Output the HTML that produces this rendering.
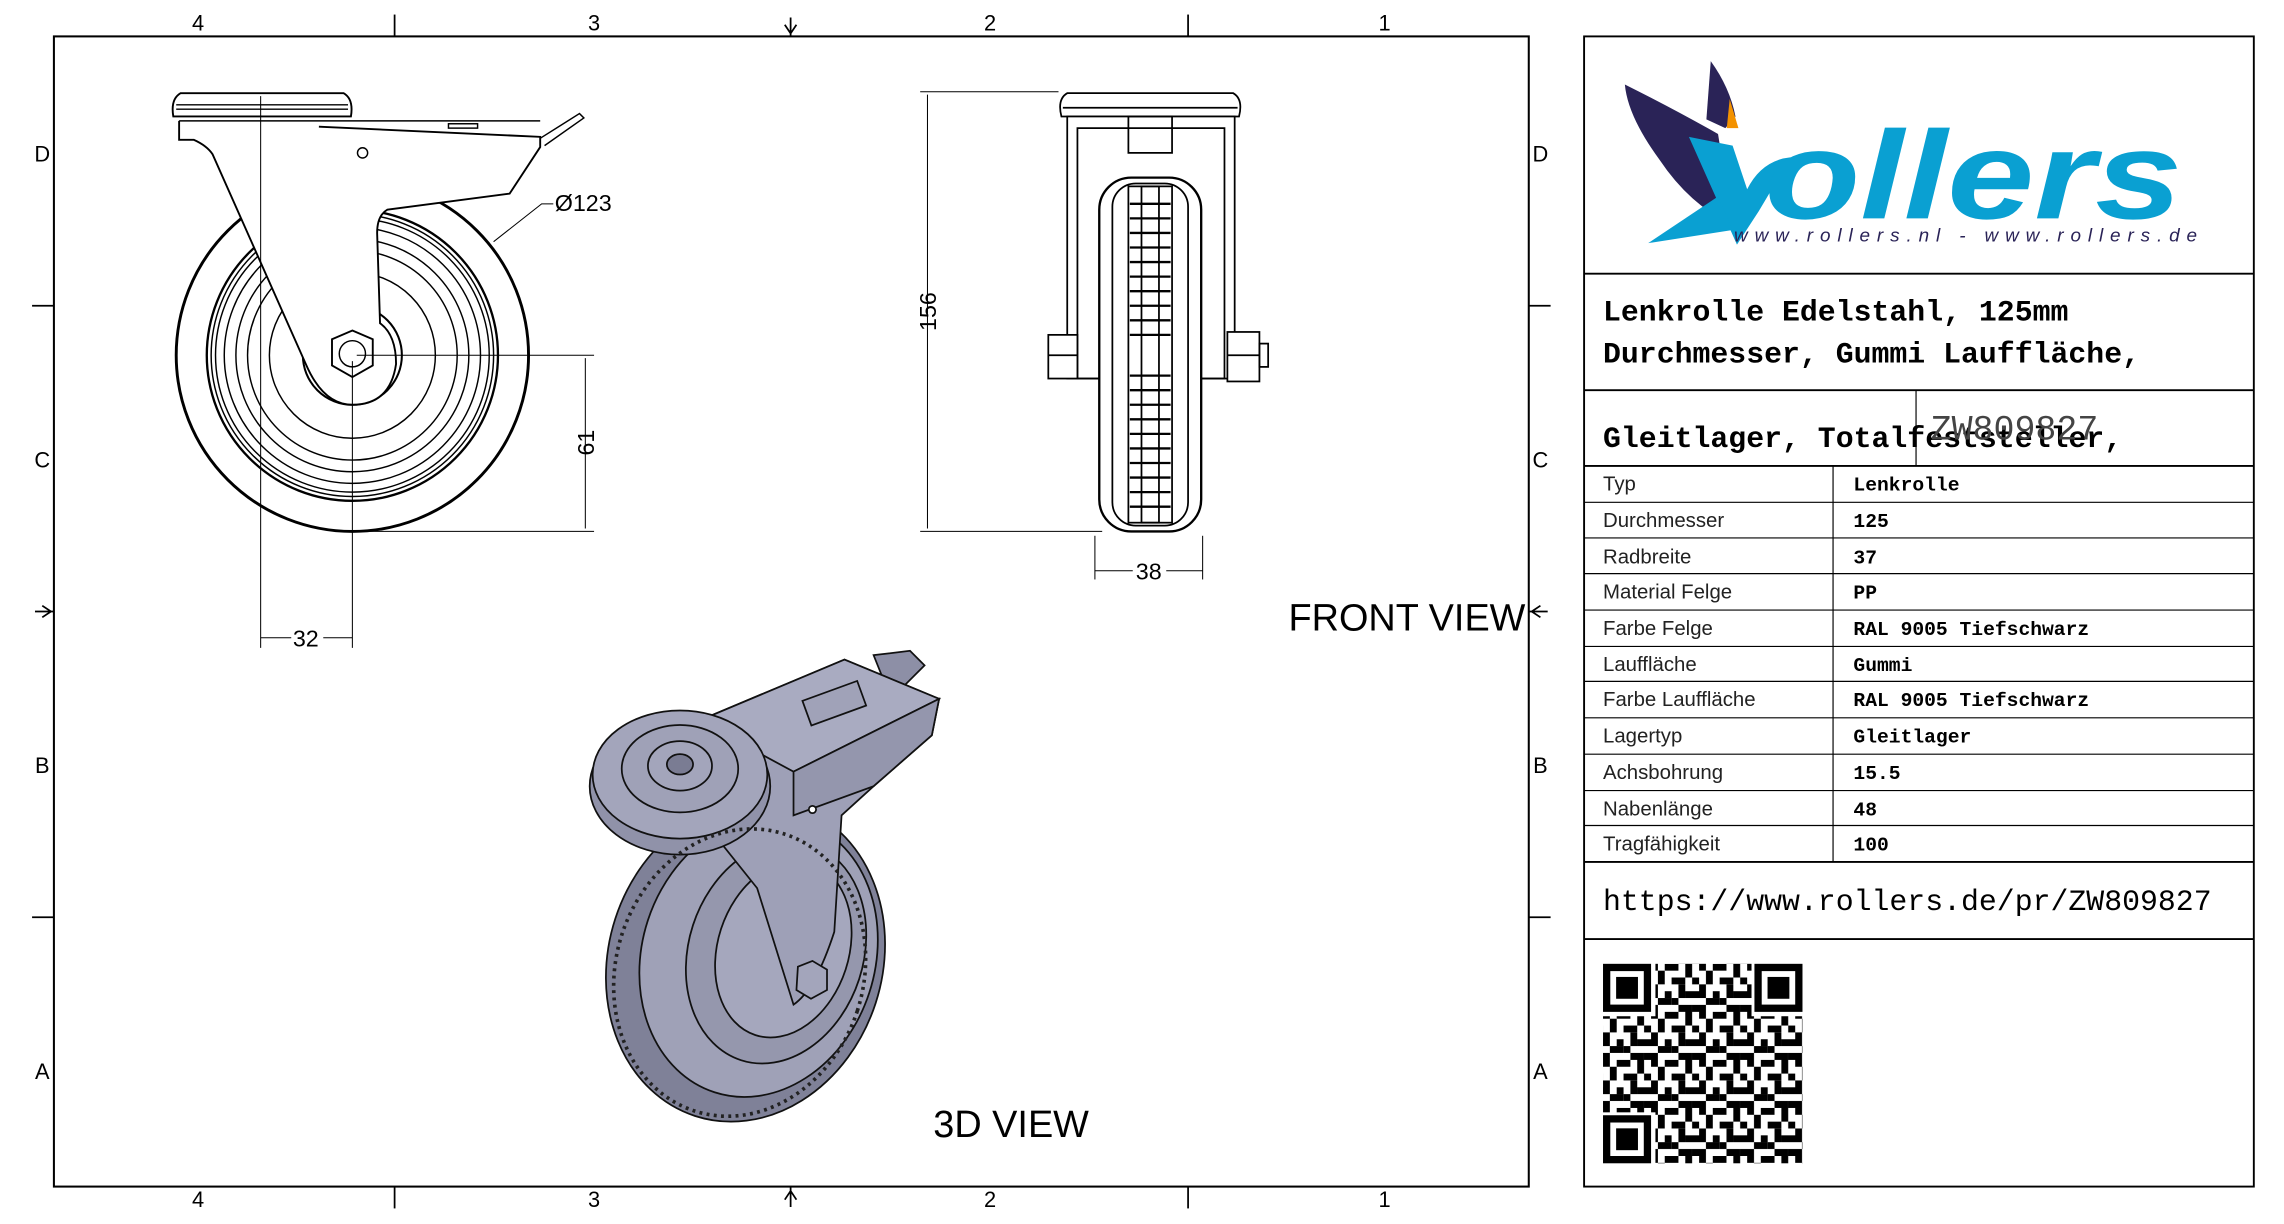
<!DOCTYPE html>
<html><head><meta charset="utf-8"><style>
html,body{margin:0;padding:0;background:#fff}
svg{display:block}
.s{font-family:"Liberation Sans","DejaVu Sans",sans-serif}
.m{font-family:"Liberation Mono","DejaVu Sans Mono",monospace}
</style></head><body>
<svg width="2284" height="1224" viewBox="0 0 1568.7 840.7" xmlns="http://www.w3.org/2000/svg">
<defs>
<pattern id="qp" x="1101" y="662" width="33" height="33" patternUnits="userSpaceOnUse">
<rect x="0" y="0" width="4.7" height="4.7"/><rect x="9.4" y="0" width="9.4" height="4.7"/><rect x="23.5" y="0" width="4.7" height="9.4"/>
<rect x="4.7" y="4.7" width="4.7" height="9.4"/><rect x="14.1" y="9.4" width="9.4" height="4.7"/><rect x="28.2" y="9.4" width="4.8" height="4.7"/>
<rect x="0" y="14.1" width="4.7" height="9.4"/><rect x="9.4" y="18.8" width="4.7" height="4.7"/><rect x="18.8" y="14.1" width="4.7" height="9.4"/>
<rect x="23.5" y="18.8" width="9.5" height="4.7"/><rect x="4.7" y="23.5" width="9.4" height="4.7"/><rect x="18.8" y="28.2" width="9.4" height="4.8"/>
<rect x="0" y="28.2" width="4.7" height="4.8"/><rect x="28.2" y="28.2" width="4.8" height="4.8"/><rect x="14.1" y="23.5" width="4.7" height="4.7"/>
</pattern>
</defs>
<rect width="1568.7" height="840.7" fill="#fff"/>
<!-- main frame -->
<rect x="37" y="25" width="1013" height="790" fill="none" stroke="#000" stroke-width="1.4"/>
<g stroke="#000" stroke-width="1.2" fill="none">
<line x1="271" y1="10" x2="271" y2="25"/><line x1="816" y1="10" x2="816" y2="25"/>
<line x1="271" y1="815" x2="271" y2="830"/><line x1="816" y1="815" x2="816" y2="830"/>
<line x1="22" y1="210" x2="37" y2="210"/><line x1="22" y1="630" x2="37" y2="630"/>
<line x1="1050" y1="210" x2="1065" y2="210"/><line x1="1050" y1="630" x2="1065" y2="630"/>
<path d="M543 12 V25 M539 17 L543 23 L547 17"/>
<path d="M543 829 V815 M539 824 L543 818 L547 824"/>
<path d="M24 420 H37 M29 416 L35 420 L29 424"/>
<path d="M1063 420 H1050 M1058 416 L1052 420 L1058 424"/>
</g>
<g class="s" font-size="15" fill="#000" text-anchor="middle">
<text x="136" y="21">4</text><text x="408" y="21">3</text><text x="680" y="21">2</text><text x="951" y="21">1</text>
<text x="136" y="829">4</text><text x="408" y="829">3</text><text x="680" y="829">2</text><text x="951" y="829">1</text>
<text x="29" y="111">D</text><text x="29" y="321">C</text><text x="29" y="531">B</text><text x="29" y="741">A</text>
<text x="1058" y="111">D</text><text x="1058" y="321">C</text><text x="1058" y="531">B</text><text x="1058" y="741">A</text>
</g>

<!-- LEFT VIEW -->
<g stroke="#000" fill="none" stroke-width="1">
<circle cx="242" cy="244" r="121" stroke-width="2"/>
<circle cx="242" cy="244" r="100" stroke-width="1.6"/>
<circle cx="242" cy="244" r="97"/>
<circle cx="242" cy="244" r="94"/>
<circle cx="242" cy="244" r="88"/>
<circle cx="242" cy="244" r="80"/>
<circle cx="242" cy="244" r="72"/>
<circle cx="242" cy="244" r="57"/>
<circle cx="242" cy="244" r="34" stroke-width="1.4"/>
<path d="M123 83 V96 H133 Q142 100 146 106 L210 250 Q222 278 242 278 Q268 278 272 250 Q272 230 261 222 L259 160 Q259 148 266 144 L350 133 L371 101 V94 L219 87" fill="#fff" stroke-width="1.3"/>
<path d="M123 83 H371" stroke-width="1"/>
<path d="M119 80 Q117 68 124 64 H236 Q243 68 241 80 Z" fill="#fff" stroke-width="1.3"/>
<line x1="121" y1="72" x2="239" y2="72"/><line x1="121" y1="75" x2="239" y2="75"/>
<path d="M371 95 L398 78 L401 81 L374 100"/>
<rect x="308" y="85" width="20" height="3"/>
<circle cx="249" cy="105" r="3.5"/>
<polygon points="242,227 256,233 256,251 242,259 228,251 228,233" fill="#fff" stroke-width="1.3"/>
<circle cx="242" cy="243" r="9"/>
</g>
<g stroke="#000" fill="none" stroke-width="0.7">
<line x1="179" y1="66" x2="179" y2="445"/>
<line x1="242" y1="248" x2="242" y2="445"/>
<line x1="245" y1="244" x2="408" y2="244"/>
<line x1="245" y1="365" x2="408" y2="365"/>
<line x1="402" y1="246" x2="402" y2="363"/>
<path d="M179 438 H200 M222 438 H242"/>
<path d="M339 166 L372 140 H380"/>
</g>
<g class="s" font-size="16" fill="#000">
<text x="210" y="444" text-anchor="middle">32</text>
<text x="381" y="145">Ø123</text>
<text transform="translate(408,304) rotate(-90)" text-anchor="middle">61</text>
</g>

<!-- FRONT VIEW -->
<g stroke="#000" fill="none" stroke-width="1.2">
<path d="M729 80 Q726 68 733 64 H847 Q854 68 851 80 Z" fill="#fff"/>
<line x1="730" y1="74" x2="850" y2="74"/>
<rect x="733" y="80" width="115" height="180" fill="#fff"/>
<rect x="740" y="88" width="101" height="172"/>
<rect x="775" y="80" width="30" height="25"/>
<rect x="755" y="122" width="70" height="243" rx="22" fill="#fff" stroke-width="1.6"/>
<rect x="764" y="126" width="52" height="235" rx="16"/>
<rect x="775" y="128" width="30" height="231"/>
<rect x="784" y="128" width="12" height="231"/>
<rect x="720" y="230" width="20" height="30" fill="#fff"/>
<rect x="843" y="228" width="22" height="34" fill="#fff"/>
<line x1="720" y1="244" x2="740" y2="244"/><line x1="843" y1="244" x2="865" y2="244"/>
<rect x="865" y="236" width="6" height="16"/>
</g>
<g stroke="#000" stroke-width="1.6">
<path d="M776 140 H804 M776 150 H804 M776 160 H804 M776 170 H804 M776 180 H804 M776 190 H804 M776 200 H804 M776 210 H804 M776 220 H804 M776 230 H804 M776 258 H804 M776 268 H804 M776 278 H804 M776 288 H804 M776 298 H804 M776 308 H804 M776 318 H804 M776 328 H804 M776 338 H804 M776 348 H804"/>
</g>
<g stroke="#000" fill="none" stroke-width="0.7">
<line x1="632" y1="63" x2="727" y2="63"/>
<line x1="632" y1="365" x2="757" y2="365"/>
<line x1="637" y1="65" x2="637" y2="363"/>
<line x1="752" y1="368" x2="752" y2="398"/><line x1="826" y1="368" x2="826" y2="398"/>
<path d="M752 392 H778 M801 392 H826"/>
</g>
<g class="s" font-size="16" fill="#000">
<text x="789" y="398" text-anchor="middle">38</text>
<text transform="translate(643,214) rotate(-90)" text-anchor="middle">156</text>
<text x="885" y="433" font-size="26">FRONT VIEW</text>
<text x="641" y="781" font-size="26">3D VIEW</text>
</g>

<!-- 3D VIEW -->
<g stroke="#111" stroke-width="1.2">
<ellipse cx="512" cy="660" rx="94" ry="112" transform="rotate(18 512 660)" fill="#7f8198"/>
<ellipse cx="521" cy="657" rx="80" ry="98" transform="rotate(18 521 657)" fill="#9fa1b7"/>
<ellipse cx="533" cy="654" rx="60" ry="78" transform="rotate(18 533 654)" fill="#9597ad"/>
<ellipse cx="538" cy="652" rx="45" ry="62" transform="rotate(18 538 652)" fill="#a5a7bd"/>
<path d="M600 450 L625 447 L635 457 L612 480 Z" fill="#8d8fa6"/>
<path d="M480 495 L580 453 L645 480 L640 505 L600 540 L578 560 L573 640 Q560 680 545 690 L520 610 L480 560 Z" fill="#9ea0b7"/>
<path d="M480 495 L580 453 L645 480 L545 530 Z" fill="#a9abc1"/>
<path d="M545 530 L645 480 L640 505 L600 540 L545 560 Z" fill="#9496ad"/>
<rect x="553" y="474" width="40" height="18" transform="rotate(-20 573 483)" fill="#a0a2b8"/>
<ellipse cx="467" cy="540" rx="62" ry="47" fill="#9092a9"/>
<ellipse cx="467" cy="532" rx="60" ry="44" fill="#a3a5bb"/>
<ellipse cx="467" cy="528" rx="40" ry="30" fill="#9fa1b7"/>
<ellipse cx="467" cy="526" rx="22" ry="17" fill="#a3a5bb"/>
<ellipse cx="467" cy="525" rx="9" ry="7" fill="#7a7c93"/>
<polygon points="548,664 558,660 568,666 568,680 557,686 547,680" fill="#a3a5bb"/>
<circle cx="558" cy="556" r="2.5" fill="#fff"/>
</g>
<g stroke="#222" stroke-width="2.5" fill="none" stroke-dasharray="2 3">
<ellipse cx="508" cy="668" rx="85" ry="100" transform="rotate(18 508 668)"/>
</g>

<!-- RIGHT PANEL -->
<g stroke="#000" fill="none" stroke-width="1.3">
<rect x="1088" y="25" width="460" height="790"/>
<line x1="1088" y1="188" x2="1548" y2="188"/>
<line x1="1088" y1="268" x2="1548" y2="268"/>
<line x1="1088" y1="320" x2="1548" y2="320"/>
<line x1="1088" y1="592" x2="1548" y2="592"/>
<line x1="1088" y1="645" x2="1548" y2="645"/>
</g>
<g stroke="#000" stroke-width="0.8">
<line x1="1316" y1="268" x2="1316" y2="320"/>
<line x1="1259" y1="320" x2="1259" y2="592"/>
<line x1="1088" y1="345" x2="1548" y2="345"/><line x1="1088" y1="369.5" x2="1548" y2="369.5"/>
<line x1="1088" y1="394" x2="1548" y2="394"/><line x1="1088" y1="419" x2="1548" y2="419"/>
<line x1="1088" y1="444" x2="1548" y2="444"/><line x1="1088" y1="468" x2="1548" y2="468"/>
<line x1="1088" y1="493" x2="1548" y2="493"/><line x1="1088" y1="518" x2="1548" y2="518"/>
<line x1="1088" y1="543" x2="1548" y2="543"/><line x1="1088" y1="567" x2="1548" y2="567"/>
</g>
<!-- logo -->
<path d="M1116 58 Q1150 75 1180 92 L1190 155 Q1160 140 1140 110 Q1118 80 1116 58 Z" fill="#2a2357"/>
<path d="M1175 42 Q1188 60 1192 80 L1185 88 L1172 82 Z" fill="#2a2357"/>
<path d="M1188 68 L1194 88 L1186 88 Z" fill="#f39200"/>
<path d="M1160 94 L1190 100 L1200 130 Q1210 110 1230 108 L1208 145 L1193 168 Z" fill="#0aa0d2"/>
<path d="M1132 167 L1180 135 L1190 158 Z" fill="#0aa0d2"/>
<text transform="translate(1212,150) scale(1.25,1)" font-family="Liberation Sans,sans-serif" font-weight="bold" font-style="italic" font-size="86" fill="#0aa0d2">ollers</text>
<text x="1191" y="166" font-family="Liberation Sans,sans-serif" font-style="italic" font-size="13" fill="#2a2357" textLength="318" lengthAdjust="spacing">www.rollers.nl  -  www.rollers.de</text>

<g class="m" font-weight="bold" font-size="20.5" fill="#000">
<text x="1101" y="220">Lenkrolle Edelstahl, 125mm</text>
<text x="1101" y="249">Durchmesser, Gummi Lauffläche,</text>
<text x="1101" y="307">Gleitlager, Totalfeststeller,</text>
</g>
<text x="1326" y="302" class="m" font-size="24" fill="#444">ZW809827</text>
<g class="s" font-size="14" fill="#222">
<text x="1101" y="337">Typ</text><text x="1101" y="362">Durchmesser</text><text x="1101" y="387">Radbreite</text>
<text x="1101" y="411">Material Felge</text><text x="1101" y="436">Farbe Felge</text><text x="1101" y="461">Lauffläche</text>
<text x="1101" y="485">Farbe Lauffläche</text><text x="1101" y="510">Lagertyp</text><text x="1101" y="535">Achsbohrung</text>
<text x="1101" y="560">Nabenlänge</text><text x="1101" y="584">Tragfähigkeit</text>
</g>
<g class="m" font-weight="bold" font-size="13.5" fill="#000">
<text x="1273" y="337">Lenkrolle</text><text x="1273" y="362">125</text><text x="1273" y="387">37</text>
<text x="1273" y="411">PP</text><text x="1273" y="436">RAL 9005 Tiefschwarz</text><text x="1273" y="461">Gummi</text>
<text x="1273" y="485">RAL 9005 Tiefschwarz</text><text x="1273" y="510">Gleitlager</text><text x="1273" y="535">15.5</text>
<text x="1273" y="560">48</text><text x="1273" y="584">100</text>
</g>
<text x="1101" y="625" class="m" font-size="20.5" fill="#000">https://www.rollers.de/pr/ZW809827</text>
<!-- QR -->
<rect x="1101" y="662" width="137" height="137" fill="url(#qp)"/>
<g fill="#000">
<rect x="1099" y="660" width="38" height="38" fill="#fff"/><rect x="1203" y="660" width="37" height="38" fill="#fff"/><rect x="1099" y="764" width="38" height="37" fill="#fff"/>
<rect x="1101" y="662" width="33" height="33"/><rect x="1106" y="667" width="23" height="23" fill="#fff"/><rect x="1110" y="671" width="15" height="15"/>
<rect x="1205" y="662" width="33" height="33"/><rect x="1210" y="667" width="23" height="23" fill="#fff"/><rect x="1214" y="671" width="15" height="15"/>
<rect x="1101" y="766" width="33" height="33"/><rect x="1106" y="771" width="23" height="23" fill="#fff"/><rect x="1110" y="775" width="15" height="15"/>
</g>
</svg>
</body></html>
